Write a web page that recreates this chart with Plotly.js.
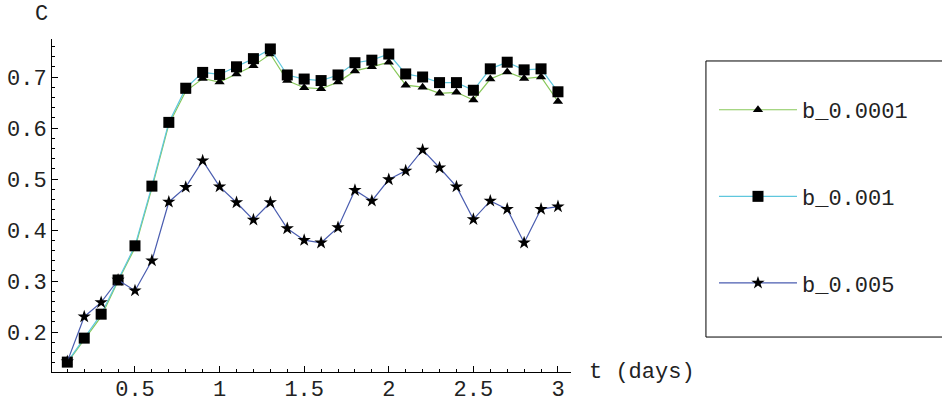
<!DOCTYPE html>
<html>
<head>
<meta charset="utf-8">
<script src="https://cdn.plot.ly/plotly-3.0.1.min.js"></script>
<style>html,body{margin:0;padding:0;background:#fff;}#chart{width:942px;height:402px;}</style>
</head>
<body>
<div id="chart"></div>
<script>
// time points (days)
var t = [0.1,0.2,0.3,0.4,0.5,0.6,0.7,0.8,0.9,1.0,1.1,1.2,1.3,1.4,1.5,1.6,1.7,1.8,1.9,2.0,2.1,2.2,2.3,2.4,2.5,2.6,2.7,2.8,2.9,3.0];
// C for b = 0.0001 (triangles)
var c_b0001 = [0.140,0.185,0.230,0.300,0.365,0.482,0.607,0.672,0.697,0.690,0.706,0.722,0.745,0.693,0.679,0.677,0.690,0.712,0.720,0.729,0.684,0.680,0.668,0.670,0.655,0.696,0.710,0.697,0.700,0.652];
// C for b = 0.001 (squares)
var c_b001 = [0.141,0.188,0.235,0.302,0.369,0.486,0.611,0.678,0.709,0.705,0.720,0.736,0.755,0.704,0.696,0.693,0.704,0.728,0.733,0.745,0.706,0.700,0.689,0.689,0.674,0.716,0.729,0.714,0.716,0.671];
// C for b = 0.005 (stars)
var c_b005 = [0.142,0.230,0.258,0.302,0.281,0.340,0.455,0.484,0.536,0.485,0.454,0.420,0.454,0.403,0.380,0.375,0.405,0.478,0.457,0.499,0.516,0.557,0.522,0.485,0.421,0.457,0.441,0.375,0.441,0.446];
var names = ["b_0.0001","b_0.001","b_0.005"];

var FONT = "Liberation Mono, Courier New, monospace";
var TXT = "#222";

var traces = [
  {x:t, y:c_b0001, name:names[0], legendgroup:"a", mode:"lines+markers",
   line:{color:"#88c85a", width:1.2},
   marker:{symbol:"triangle-up", size:9, color:"#000"}},
  {x:t, y:c_b001, name:names[1], legendgroup:"b", mode:"lines+markers",
   line:{color:"#5fc7dd", width:1.2},
   marker:{symbol:"square", size:11, color:"#000"}},
  {x:t, y:c_b005, name:names[2], legendgroup:"c", mode:"lines+markers",
   line:{color:"#4a5db0", width:1.2},
   marker:{symbol:"star", size:10, color:"#000"}}
];

var layout = {
  width:942, height:402,
  margin:{l:52, r:371, t:39, b:30},
  paper_bgcolor:"#fff", plot_bgcolor:"#fff",
  font:{family:FONT, size:22, color:TXT},
  showlegend:true,
  legend:{x:1.2755, y:0.850, xanchor:"left", yanchor:"top",
          font:{family:FONT, size:22, color:TXT},
          itemwidth:78, tracegroupgap:55, traceorder:"grouped",
          bgcolor:"rgba(0,0,0,0)", borderwidth:0},
  xaxis:{range:[0.0095,3.077], showgrid:false, zeroline:false,
         showline:true, linecolor:"#000", linewidth:1,
         ticks:"inside", ticklen:6, tickcolor:"#000", tick0:0, dtick:0.5,
         ticklabelstandoff:-3,
         minor:{dtick:0.1, ticks:"inside", ticklen:3, tickcolor:"#000"},
         tickfont:{family:FONT, size:22, color:TXT}},
  yaxis:{range:[0.1216,0.7745], showgrid:false, zeroline:false,
         showline:true, linecolor:"#000", linewidth:1,
         ticks:"inside", ticklen:6, tickcolor:"#000", tick0:0, dtick:0.1,
         minor:{dtick:0.02, ticks:"inside", ticklen:3, tickcolor:"#000"},
         tickfont:{family:FONT, size:22, color:TXT}},
  shapes:[{type:"rect", xref:"paper", yref:"paper",
           x0:1.260, x1:1.80, y0:0.105, y1:0.934,
           line:{color:"#000", width:1}, fillcolor:"rgba(0,0,0,0)"}],
  annotations:[
    {text:"C", xref:"paper", yref:"paper", x:-0.02, y:1.0, yshift:25, xanchor:"center", yanchor:"middle", showarrow:false, font:{family:FONT,size:22,color:TXT}},
    {text:"t (days)", xref:"paper", yref:"paper", x:1.03, y:0, xanchor:"left", yanchor:"middle", showarrow:false, font:{family:FONT,size:22,color:TXT}}
  ]
};
Plotly.newPlot("chart", traces, layout, {displayModeBar:false, staticPlot:true});
</script>
</body>
</html>
